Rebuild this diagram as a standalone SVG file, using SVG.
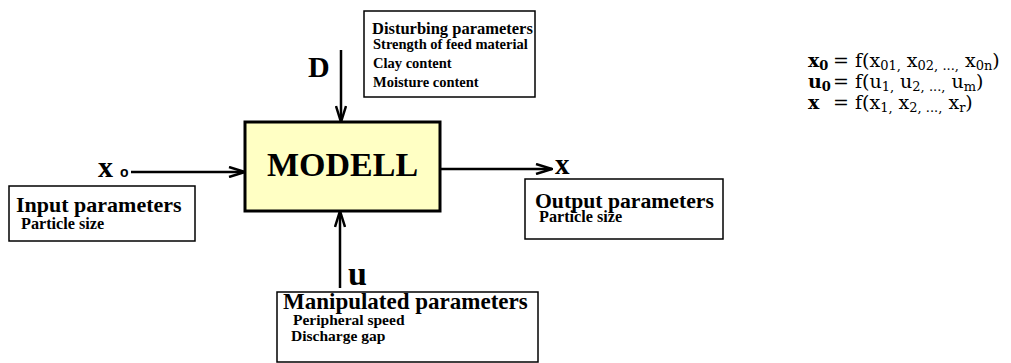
<svg xmlns="http://www.w3.org/2000/svg" width="1011" height="363" viewBox="0 0 1011 363">
  <style>
    .box { fill: #ffffff; stroke: #000000; stroke-width: 1.5; }
    .model { fill: #ffffc4; stroke: #000000; stroke-width: 3; }
    .head { font-family: "Liberation Serif", "Times New Roman", serif; font-weight: bold; font-size: 22px; fill: #000; }
    .item { font-family: "Liberation Serif", "Times New Roman", serif; font-weight: bold; font-size: 15.5px; fill: #000; }
    .sym { font-family: "Liberation Serif", "Times New Roman", serif; font-weight: bold; font-size: 30px; fill: #000; }
    .title { font-family: "Liberation Serif", "Times New Roman", serif; font-weight: bold; font-size: 34px; fill: #000; }
    .eq { font-family: "DejaVu Serif", "Liberation Serif", serif; font-size: 19px; fill: #000; }
    .eq .b { font-weight: bold; }
    .eq .s { font-size: 13px; }
    .wire { stroke: #000; stroke-width: 2.5; fill: none; }
  </style>
  <defs>
    <marker id="vhead" viewBox="0 0 18 12" refX="17" refY="6" markerWidth="18" markerHeight="12" markerUnits="userSpaceOnUse" orient="auto">
      <path d="M1,1 L17,6 L1,11" fill="none" stroke="#000" stroke-width="2.5"/>
    </marker>
  </defs>

  <rect width="1011" height="363" fill="#ffffff"/>

  <!-- connectors -->
  <g id="connectors">
    <line class="wire" x1="131" y1="172" x2="245" y2="172" marker-end="url(#vhead)"/>
    <line class="wire" x1="341" y1="50" x2="341" y2="122" marker-end="url(#vhead)"/>
    <line class="wire" x1="340" y1="288" x2="340" y2="211" marker-end="url(#vhead)"/>
    <line class="wire" x1="440" y1="169" x2="552" y2="169" marker-end="url(#vhead)"/>
  </g>

  <!-- central model block -->
  <g id="model">
    <rect class="model" x="245" y="122" width="195" height="89"/>
    <text class="title" x="342.5" y="176" text-anchor="middle">MODELL</text>
  </g>

  <!-- input side -->
  <g id="input">
    <text class="sym" x="98" y="177">x<tspan style="font-family:'Liberation Sans',sans-serif;font-size:14px" dx="7">o</tspan></text>
    <rect class="box" x="9" y="186" width="186" height="55"/>
    <text class="head" x="16" y="212">Input parameters</text>
    <text class="item" x="21" y="229" style="font-size:16.2px">Particle size</text>
  </g>

  <!-- disturbance input -->
  <g id="disturbance">
    <text class="sym" x="308" y="77">D</text>
    <rect class="box" x="364" y="11" width="171" height="86"/>
    <text class="head" x="372" y="34" style="font-size:16.5px">Disturbing parameters</text>
    <text class="item" x="373" y="49" style="font-size:14.5px">Strength of feed material</text>
    <text class="item" x="373" y="68" style="font-size:14.5px">Clay content</text>
    <text class="item" x="373" y="87" style="font-size:14.5px">Moisture content</text>
  </g>

  <!-- manipulated input -->
  <g id="manipulated">
    <text class="sym" x="348" y="285" style="font-size:34px">u</text>
    <rect class="box" x="277" y="292" width="261" height="70"/>
    <text class="head" x="283" y="309" style="font-size:23px">Manipulated parameters</text>
    <text class="item" x="293" y="325">Peripheral speed</text>
    <text class="item" x="291" y="341">Discharge gap</text>
  </g>

  <!-- output side -->
  <g id="output">
    <text class="sym" x="555" y="174" style="font-size:29px">x</text>
    <rect class="box" x="525" y="179" width="198" height="60"/>
    <text class="head" x="535" y="208" style="font-size:21.7px">Output parameters</text>
    <text class="item" x="539" y="222" style="font-size:16.2px">Particle size</text>
  </g>

  <!-- variable definitions -->
  <g id="equations" class="eq">
    <text x="808" y="67"><tspan class="b">x<tspan class="s" dy="3">0</tspan></tspan></text>
    <text x="833" y="67">= f(x<tspan class="s" dy="3">01,</tspan><tspan dy="-3"> x</tspan><tspan class="s" dy="3">02, ...,</tspan><tspan dy="-3"> x</tspan><tspan class="s" dy="3">0n</tspan><tspan dy="-3">)</tspan></text>
    <text x="808" y="88"><tspan class="b">u<tspan class="s" dy="3">0</tspan></tspan></text>
    <text x="833" y="88">= f(u<tspan class="s" dy="3">1,</tspan><tspan dy="-3"> u</tspan><tspan class="s" dy="3">2, ...,</tspan><tspan dy="-3"> u</tspan><tspan class="s" dy="3">m</tspan><tspan dy="-3">)</tspan></text>
    <text x="808" y="109"><tspan class="b">x</tspan></text>
    <text x="833" y="109">= f(x<tspan class="s" dy="3">1,</tspan><tspan dy="-3"> x</tspan><tspan class="s" dy="3">2, ...,</tspan><tspan dy="-3"> x</tspan><tspan class="s" dy="3">r</tspan><tspan dy="-3">)</tspan></text>
  </g>
</svg>
